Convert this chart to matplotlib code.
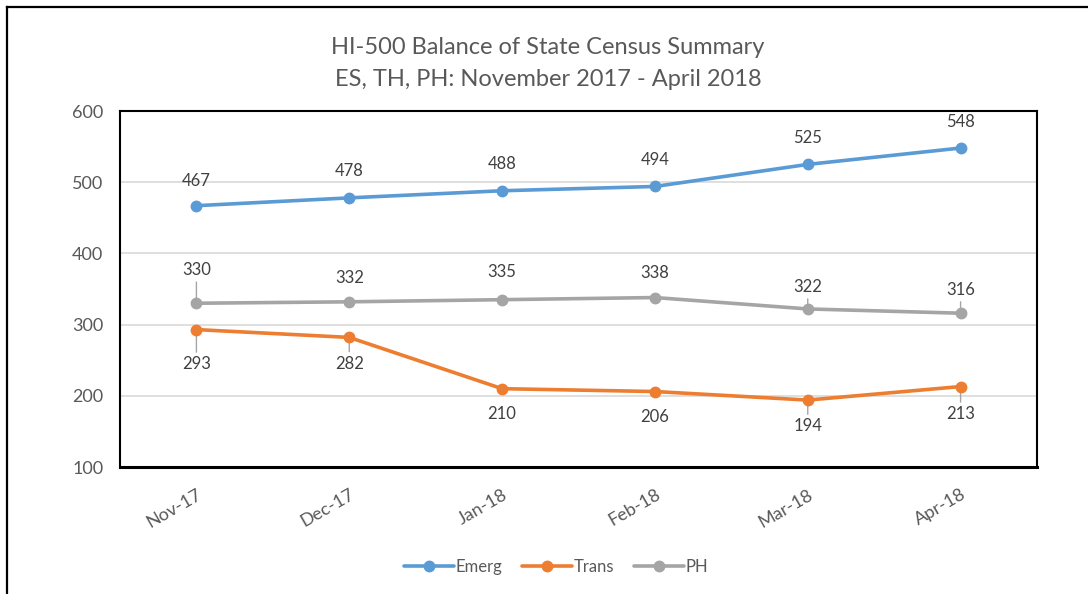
import matplotlib
matplotlib.use("Agg")
from matplotlib import pyplot as plt
from matplotlib.lines import Line2D
import numpy as np

months = ["Nov-17", "Dec-17", "Jan-18", "Feb-18", "Mar-18", "Apr-18"]
emerg = [467, 478, 488, 494, 525, 548]
trans = [293, 282, 210, 206, 194, 213]
ph = [330, 332, 335, 338, 322, 316]

# label offsets in points (dy), and whether a leader line is drawn
emerg_dy = [18, 19, 19, 19, 19, 19]
ph_dy = [24, 17, 20, 18, 16, 17]
ph_lead = [True, False, False, False, True, True]
trans_dy = [-25, -19, -18, -18, -19, -20]
trans_lead = [True, True, False, False, True, True]

plt.rcParams['font.family'] = ['Lato', 'DejaVu Sans']

fig = plt.figure(figsize=(10.88, 5.94), dpi=100)
ax = fig.add_axes([120/1088, 1-467/594, 917/1088, 356/594])

x = np.arange(len(months))
series = [("Emerg", emerg, "#5B9BD5"), ("Trans", trans, "#ED7D31"), ("PH", ph, "#A5A5A5")]
for name, vals, col in series:
    ax.plot(x, vals, color=col, lw=2.6, marker='o', markersize=7.5, label=name,
            solid_capstyle='round', zorder=3)

lbl = dict(fontsize=12, color="#404040", ha='center', va='center')
for i, v in enumerate(emerg):
    ax.annotate(str(v), (i, v), xytext=(0, emerg_dy[i]), textcoords='offset points', **lbl)
for vals, dys, leads in [(ph, ph_dy, ph_lead), (trans, trans_dy, trans_lead)]:
    for i, v in enumerate(vals):
        ap = None
        if leads[i]:
            ap = dict(arrowstyle='-', color='#A5A5A5', lw=1, shrinkA=1, shrinkB=2)
        ax.annotate(str(v), (i, v), xytext=(0, dys[i]), textcoords='offset points',
                    arrowprops=ap, zorder=2, **lbl)

ax.set_xlim(-0.5, 5.5)
ax.set_ylim(100, 600)
ax.set_yticks(range(100, 601, 100))
ax.yaxis.grid(True, color="#D9D9D9", lw=1.2)
ax.set_axisbelow(True)
ax.tick_params(axis='y', length=0, labelsize=13, labelcolor="#595959", pad=12)
ax.set_xticks(x)
ax.set_xticklabels(months, rotation=30, ha='right', rotation_mode='anchor')
ax.tick_params(axis='x', length=0, labelsize=13, labelcolor="#595959", pad=14)
for s in ax.spines.values():
    s.set_color('black')
    s.set_linewidth(1.5)
ax.spines['bottom'].set_linewidth(2.2)

fig.text(548/1088, 1-48/594, "HI-500 Balance of State Census Summary", ha='center', va='center',
         fontsize=17, color="#595959")
fig.text(548/1088, 1-80/594, "ES, TH, PH: November 2017 - April 2018", ha='center', va='center',
         fontsize=17, color="#595959")

fig.legend(loc='center', bbox_to_anchor=(556/1088, 1-567/594), ncol=3, frameon=False,
           fontsize=12, handlelength=3.0, handletextpad=0.1, columnspacing=1.2,
           labelcolor="#595959")

# outer chart border (top and left visible)
fig.add_artist(Line2D([7/1088, 7/1088], [0, 1-7/594], color='black', lw=1.6))
fig.add_artist(Line2D([7/1088, 1], [1-7/594, 1-7/594], color='black', lw=1.6))

fig.savefig("out.png", dpi=100)
